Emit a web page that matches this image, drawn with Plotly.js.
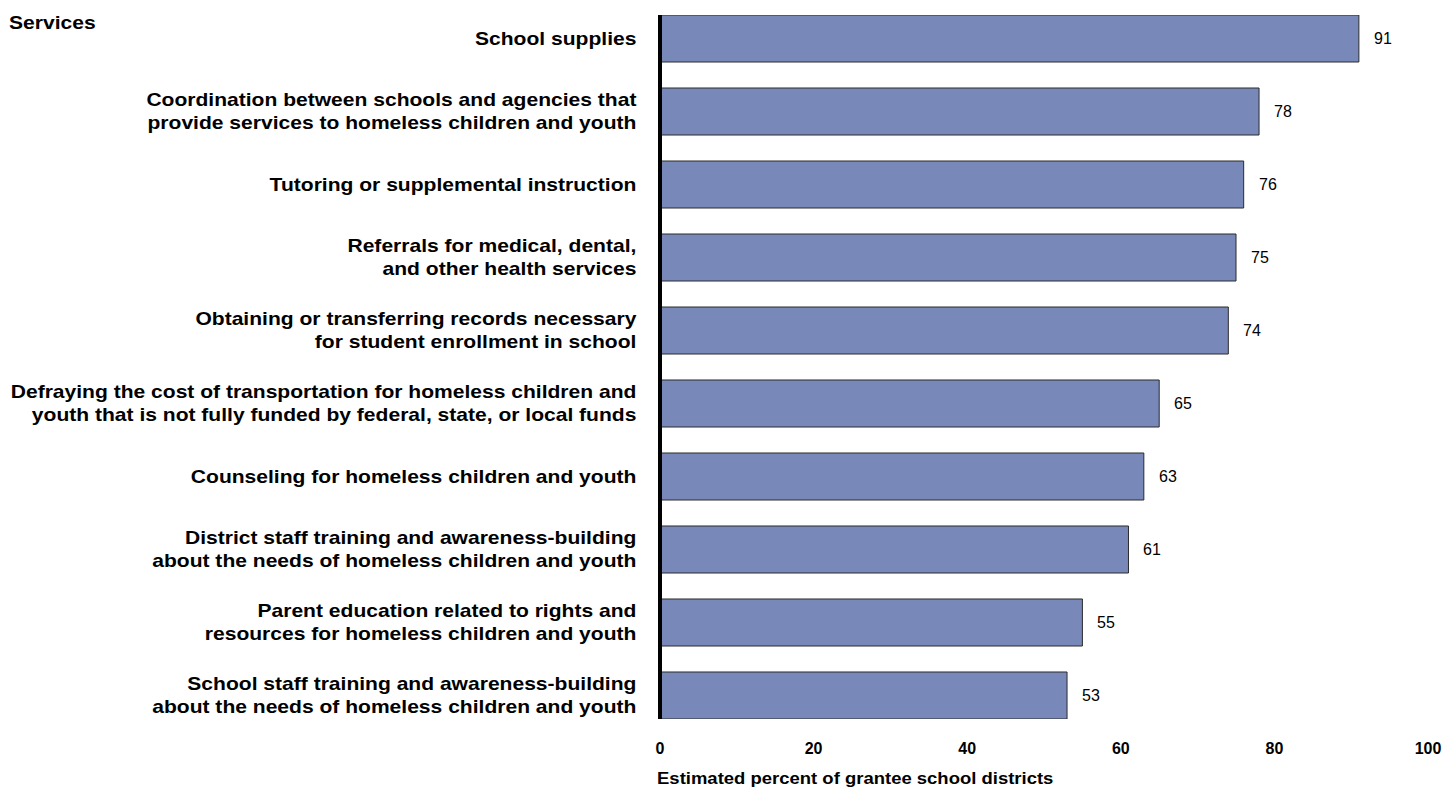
<!DOCTYPE html>
<html>
<head>
<meta charset="utf-8">
<script src="https://cdn.plot.ly/plotly-3.0.1.min.js"></script>
<style>html,body{margin:0;padding:0;background:#fff;}#chart{width:1448px;height:787px;}</style>
</head>
<body>
<div id="chart"></div>
<script>
const categories = [
  "School supplies",
  "Coordination between schools and agencies that<br>provide services to homeless children and youth",
  "Tutoring or supplemental instruction",
  "Referrals for medical, dental,<br>and other health services",
  "Obtaining or transferring records necessary<br>for student enrollment in school",
  "Defraying the cost of transportation for homeless children and<br>youth that is not fully funded by federal, state, or local funds",
  "Counseling for homeless children and youth",
  "District staff training and awareness-building<br>about the needs of homeless children and youth",
  "Parent education related to rights and<br>resources for homeless children and youth",
  "School staff training and awareness-building<br>about the needs of homeless children and youth"
];
const values = [91, 78, 76, 75, 74, 65, 63, 61, 55, 53];
const xTicks = [0, 20, 40, 60, 80, 100];
const xTitle = "Estimated percent of grantee school districts";
const yHeader = "Services";

const FONT = "Liberation Sans, Arial, sans-serif";
const PLOT_W = 1448 - 660 - 20;

const trace = {
  type: "bar",
  orientation: "h",
  x: values,
  y: categories,
  marker: {color: "#7889B9", line: {color: "#2b2b2b", width: 1}},
  hoverinfo: "none",
  cliponaxis: false
};

const annotations = values.map((v, i) => ({
  x: v, y: categories[i], xref: "x", yref: "y",
  text: String(v), showarrow: false, xanchor: "left", xshift: 13,
  font: {family: FONT, size: 16, color: "#000"}
}));
annotations.push({
  x: -653 / PLOT_W, y: 1, xref: "paper", yref: "paper", xanchor: "left", yanchor: "top",
  yshift: 4,
  text: "<b>" + yHeader + "</b>", showarrow: false,
  font: {family: FONT, size: 18, color: "#000"}
});
annotations.push({
  x: -5 / PLOT_W, y: 0, xref: "paper", yref: "paper", xanchor: "left", yanchor: "middle",
  yshift: -59,
  text: "<b>" + xTitle + "</b>", showarrow: false,
  font: {family: FONT, size: 15.8, color: "#000"}
});

const layout = {
  width: 1448, height: 787,
  margin: {l: 660, r: 20, t: 15, b: 68},
  paper_bgcolor: "#fff", plot_bgcolor: "#fff",
  bargap: 0.356,
  showlegend: false,
  xaxis: {
    range: [0, 100], tickvals: xTicks, ticktext: xTicks.map(t => "<b>" + t + "</b>"),
    showgrid: false, zeroline: false, showline: false,
    ticks: "outside", ticklen: 15, tickcolor: "rgba(0,0,0,0)",
    tickfont: {family: FONT, size: 16, color: "#000"},
    fixedrange: true
  },
  yaxis: {
    type: "category", autorange: false, range: [9.322, -0.322],
    showgrid: false, zeroline: false, showline: false,
    ticks: "outside", ticklen: 19, tickcolor: "rgba(0,0,0,0)",
    tickfont: {family: FONT, size: 18, color: "#000"},
    tickprefix: "<b>", ticksuffix: "</b>",
    fixedrange: true
  },
  shapes: [{
    type: "line", xref: "paper", yref: "paper", x0: 0, x1: 0, y0: 0, y1: 1,
    line: {color: "#000", width: 4}
  }],
  annotations: annotations
};

function stretch(el, sx, anchor) {
  const bb = el.getBBox();
  const ax = anchor === "right" ? bb.x + bb.width : bb.x;
  const t = el.getAttribute("transform") || "";
  el.setAttribute("transform", t + " translate(" + ax + " 0) scale(" + sx + " 1) translate(" + (-ax) + " 0)");
}

Plotly.newPlot("chart", [trace], layout, {displayModeBar: false, staticPlot: true}).then(gd => {
  gd.querySelectorAll(".ytick text").forEach(el => stretch(el, 1.17, "right"));
  const ann = gd.querySelectorAll(".annotation-text");
  const n = ann.length;
  stretch(ann[n - 2], 1.17, "left");
  stretch(ann[n - 1], 1.17, "left");
});
</script>
</body>
</html>
